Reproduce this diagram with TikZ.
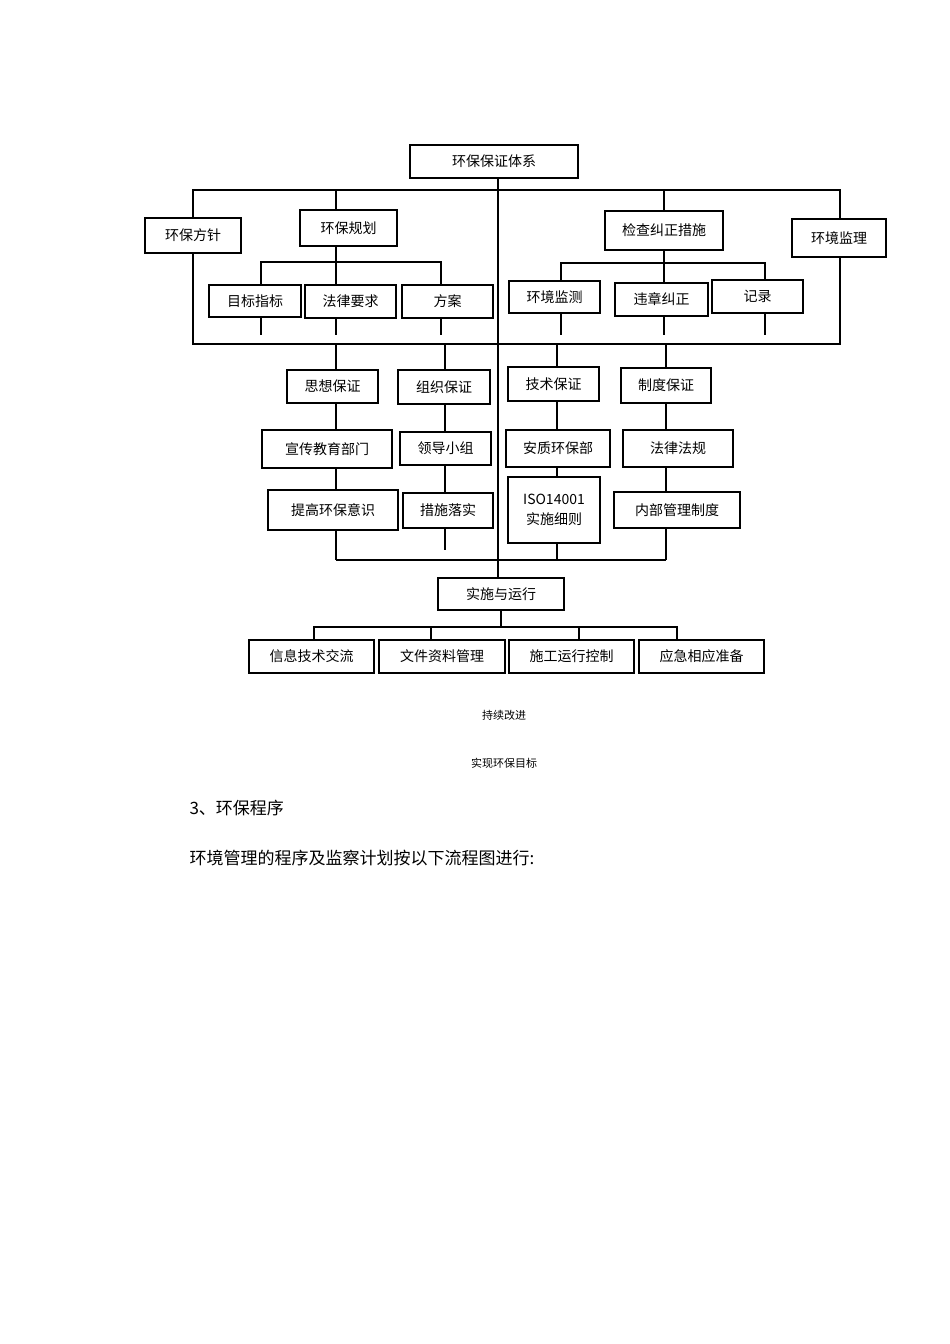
\documentclass[tikz,border=0pt]{standalone}
\usepackage{fontspec}
\setmainfont{Noto Sans CJK SC}
\begin{document}
\begin{tikzpicture}[x=1pt,y=-1pt,
  bx/.style={draw,line width=2.2pt,font=\fontsize{14}{16}\selectfont,inner sep=0pt,align=center},
  ln/.style={line width=2pt}]
\useasboundingbox (0,0) rectangle (950,1344);
\newcommand\bx[6]{\node[bx,minimum width={#4-#2},minimum height={#5-#3}] (#1) at ({(#2+#4)/2},{(#3+#5)/2}) {#6};}
\bx{top}{410}{145}{578}{178}{环保保证体系}
\bx{fz}{145}{218}{241}{253}{环保方针}
\bx{gh}{300}{210}{397}{246}{环保规划}
\bx{jc}{605}{211}{723}{250}{检查纠正措施}
\bx{jl}{792}{219}{886}{257}{环境监理}
\bx{mb}{209}{285}{301}{317}{目标指标}
\bx{fl}{305}{285}{396}{318}{法律要求}
\bx{fa}{402}{285}{493}{318}{方案}
\bx{jcz}{509}{281}{600}{313}{环境监测}
\bx{wz}{615}{283}{708}{316}{违章纠正}
\bx{jlu}{712}{280}{803}{313}{记录}
\bx{sx}{287}{370}{378}{403}{思想保证}
\bx{zz}{398}{370}{490}{404}{组织保证}
\bx{js}{508}{367}{599}{401}{技术保证}
\bx{zd}{621}{368}{711}{403}{制度保证}
\bx{xc}{262}{430}{392}{468}{宣传教育部门}
\bx{ld}{400}{432}{491}{465}{领导小组}
\bx{az}{506}{430}{610}{467}{安质环保部}
\bx{ff}{623}{430}{733}{467}{法律法规}
\bx{tg}{268}{490}{398}{530}{提高环保意识}
\bx{cs}{403}{493}{493}{528}{措施落实}
\bx{iso}{508}{477}{600}{543}{ISO14001\\[4pt]实施细则}
\bx{nb}{614}{492}{740}{528}{内部管理制度}
\bx{ss}{438}{578}{564}{610}{实施与运行}
\bx{xx}{249}{640}{374}{673}{信息技术交流}
\bx{wj}{379}{640}{505}{673}{文件资料管理}
\bx{sg}{509}{640}{634}{673}{施工运行控制}
\bx{yj}{639}{640}{764}{673}{应急相应准备}
% trunk
\draw[ln] (top.south -| 498,0) -- (ss.north -| 498,0);
\draw[ln] (193,218) |- (840,190) -- (jl.north -| 840,0);
\draw[ln] (gh.north -| 336,0) -- (336,190);
\draw[ln] (jc.north) -- (664,190);
\draw[ln] (fz.south -| 193,0) -- (193,344) -- (840,344) -- (jl.south -| 840,0);
% sub left
\draw[ln] (261,285) |- (441,262) -- (441,285);
\draw[ln] (gh.south -| 336,0) -- (336,285);
\draw[ln] (261,317) -- (261,335);
\draw[ln] (336,318) -- (336,335);
\draw[ln] (441,318) -- (441,335);
% sub right
\draw[ln] (561,281) |- (765,263) -- (765,280);
\draw[ln] (jc.south) -- (664,283);
\draw[ln] (561,313) -- (561,335);
\draw[ln] (664,316) -- (664,335);
\draw[ln] (765,313) -- (765,335);
% columns
\draw[ln] (336,344) -- (336,370) (336,403) -- (336,430) (336,468) -- (336,490) (336,530) -- (336,560);
\draw[ln] (445,344) -- (445,370) (445,404) -- (445,432) (445,465) -- (445,493) (445,528) -- (445,550);
\draw[ln] (557,344) -- (557,367) (557,401) -- (557,430) (557,467) -- (557,477) (557,543) -- (557,560);
\draw[ln] (666,344) -- (666,368) (666,403) -- (666,430) (666,467) -- (666,492) (666,528) -- (666,560);
\draw[ln] (336,560) -- (666,560);
% bottom
\draw[ln] (ss.south -| 501,0) -- (501,627);
\draw[ln] (314,640) |- (677,627) -- (677,640);
\draw[ln] (431,627) -- (431,640) (579,627) -- (579,640);
\node[font=\fontsize{11}{13}\selectfont] (cx) at (504,715) {持续改进};
\node[font=\fontsize{11}{13}\selectfont] (sx2) at (504,763) {实现环保目标};
\node[font=\fontsize{17}{20}\selectfont,anchor=west] (h3) at (186,808) {3、环保程序};
\node[font=\fontsize{17}{20}\selectfont,anchor=west] (p1) at (186,858) {环境管理的程序及监察计划按以下流程图进行:};
\end{tikzpicture}
\end{document}
